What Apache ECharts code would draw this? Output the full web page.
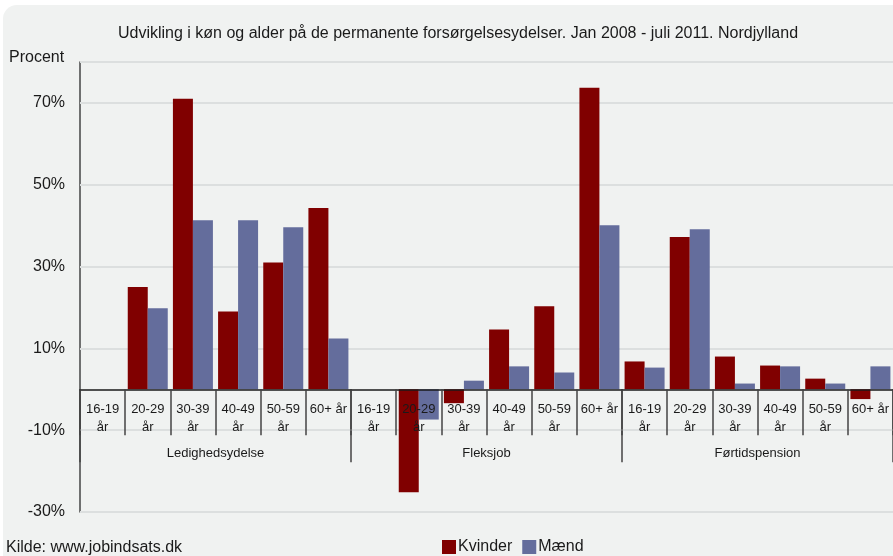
<!DOCTYPE html>
<html>
<head>
<meta charset="utf-8">
<script src="https://cdn.jsdelivr.net/npm/echarts@6/dist/echarts.min.js"></script>
<style>
  html, body { margin: 0; padding: 0; background: #fff; }
  #chart { width: 893px; height: 556px; }
</style>
</head>
<body>
<div id="chart"></div>
<script>
// grupper og aldersklasser
const groups = ['Ledighedsydelse', 'Fleksjob', 'Førtidspension']
const ageLabels = ['16-19\når', '20-29\når', '30-39\når', '40-49\når', '50-59\når', '60+ år']

// procent
const kvinder = [null, 25.0, 71.0, 19.0, 31.0, 44.3, null, -25.2, -3.4, 14.6, 20.3, 73.7, 6.8, 37.2, 8.0, 5.8, 2.6, -2.4]
const maend = [null, 19.8, 41.3, 41.3, 39.6, 12.4, null, -7.4, 2.1, 5.6, 4.1, 40.1, 5.3, 39.1, 1.4, 5.6, 1.4, 5.6]

// y-akse
const yMin = -30
const yMax = 80
const yLabels = [-30, -10, 10, 30, 50, 70]
const gridValues = [-30, -10, 10, 30, 50, 70, 80]

const categories = []
groups.forEach(g => {
  ageLabels.forEach(a => {
    categories.push(g + '|' + a)
  })
})

const font = 'Liberation Sans, Arial, sans-serif'
const gridTop = 62
const gridBottom = 44
const chartHeight = 556
// x-akserne flyttes op til nul-linjen
const plotHeight = chartHeight - gridTop - gridBottom
const zeroOffset = -plotHeight * (0 - yMin) / (yMax - yMin)

const chart = echarts.init(document.getElementById('chart'))

const option = {
  animation: false,
  textStyle: { fontFamily: font },
  graphic: [
    {
      type: 'rect',
      z: -10,
      shape: { x: 3, y: 5, width: 910, height: 570, r: 14 },
      style: { fill: '#f0f2f1' }
    },
    {
      type: 'text',
      left: 9,
      top: 50,
      style: { text: 'Procent', font: '16px ' + font, fill: '#1a1a1a' }
    },
    {
      type: 'text',
      left: 6,
      top: 540,
      style: { text: 'Kilde: www.jobindsats.dk', font: '16px ' + font, fill: '#1a1a1a' }
    }
  ],
  title: {
    text: 'Udvikling i køn og alder på de permanente forsørgelsesydelser. Jan 2008 - juli 2011. Nordjylland',
    left: 453,
    textAlign: 'center',
    top: 21,
    textStyle: { fontSize: 16, fontWeight: 'normal', color: '#1a1a1a', fontFamily: font }
  },
  legend: {
    left: 442,
    top: 539,
    padding: 0,
    icon: 'rect',
    itemWidth: 14,
    itemHeight: 14,
    itemGap: 10,
    textStyle: { fontSize: 16, color: '#1a1a1a', fontFamily: font, padding: [0, 0, 0, -3] },
    data: ['Kvinder', 'Mænd']
  },
  grid: {
    left: 80,
    right: 0,
    top: gridTop,
    bottom: gridBottom,
    containLabel: false,
    outerBoundsMode: 'none'
  },
  xAxis: [
    {
      type: 'category',
      data: categories,
      position: 'bottom',
      offset: zeroOffset,
      z: 3,
      axisLine: { onZero: false, lineStyle: { color: '#1a1a1a', width: 1.5 } },
      axisTick: { show: true, length: 46, lineStyle: { color: '#444', width: 1.5 } },
      axisLabel: {
        interval: 0,
        margin: 11,
        fontSize: 13,
        lineHeight: 18,
        color: '#1a1a1a',
        formatter: v => v.split('|')[1]
      },
      splitLine: { show: false }
    },
    {
      type: 'category',
      data: groups,
      position: 'bottom',
      offset: zeroOffset,
      axisLine: { show: false, onZero: false },
      axisTick: { show: true, length: 73, lineStyle: { color: '#444', width: 1.5 } },
      axisLabel: { interval: 0, margin: 58, fontSize: 13, color: '#1a1a1a' },
      splitLine: { show: false }
    }
  ],
  yAxis: {
    type: 'value',
    min: yMin,
    max: yMax,
    interval: 10,
    axisLine: { show: true, lineStyle: { color: '#444', width: 1.5 } },
    axisTick: { show: false },
    splitLine: { show: false },
    axisLabel: {
      margin: 15,
      fontSize: 16,
      color: '#1a1a1a',
      formatter: v => (yLabels.indexOf(v) >= 0 ? v + '%' : '')
    }
  },
  series: [
    {
      name: 'Kvinder',
      type: 'bar',
      xAxisIndex: 0,
      barWidth: 20,
      barGap: '0%',
      itemStyle: { color: '#800000' },
      data: kvinder,
      markLine: {
        silent: true,
        z: 1,
        symbol: 'none',
        label: { show: false },
        lineStyle: { color: '#dcdfdf', width: 2, type: 'solid' },
        data: gridValues.map(v => ({ yAxis: v }))
      }
    },
    {
      name: 'Mænd',
      type: 'bar',
      xAxisIndex: 0,
      barWidth: 20,
      barGap: '0%',
      itemStyle: { color: '#646d9c' },
      data: maend
    }
  ]
}

chart.setOption(option)
</script>
</body>
</html>
